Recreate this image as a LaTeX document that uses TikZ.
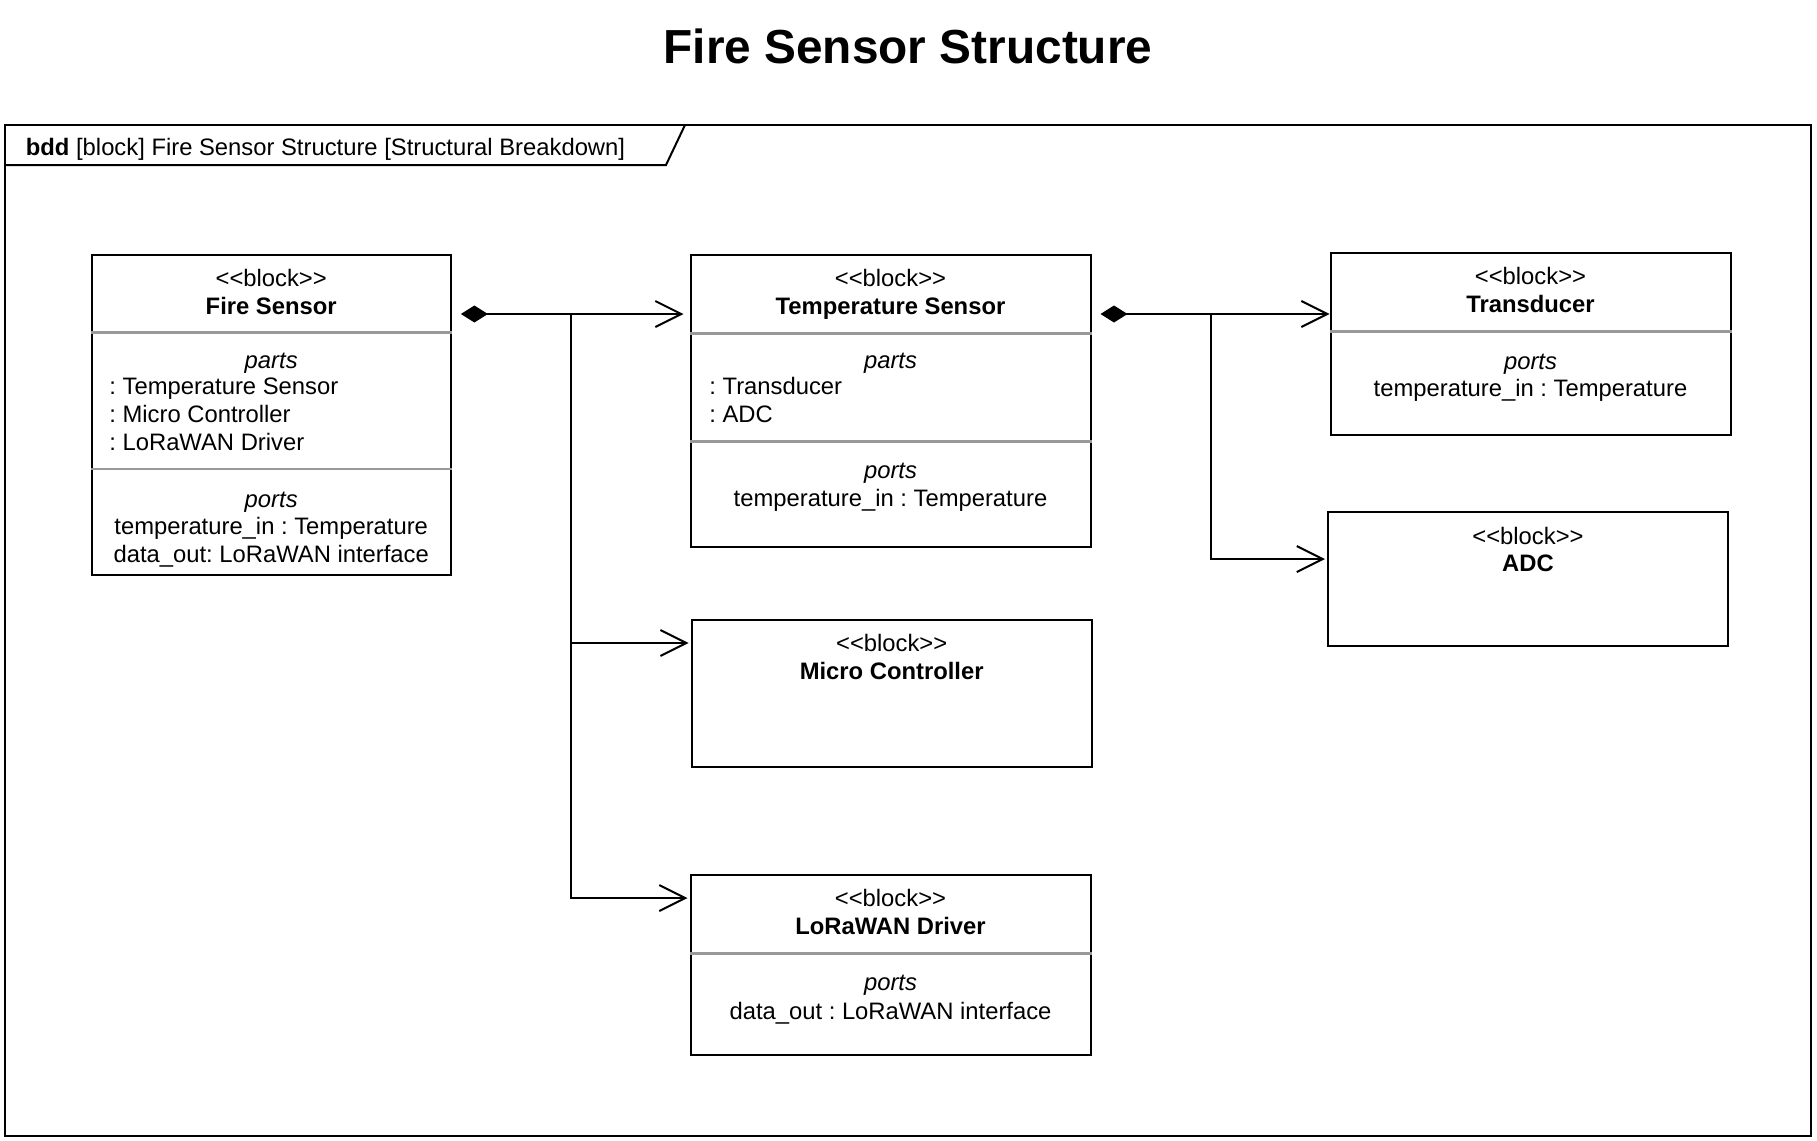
\documentclass[tikz,border=0pt]{standalone}
\usepackage{fontspec}
\setmainfont{Liberation Sans}
\usetikzlibrary{arrows.meta}
\frenchspacing

\newcommand{\sterblock}{<\kern0pt<block>\kern0pt>}

\tikzset{
  block/.style={draw, line width=1pt, inner sep=0pt},
  divider/.style={draw=black!40, line width=1.3pt},
  txt/.style={anchor=base, inner sep=0pt, font=\fontsize{11.9}{13.9}\selectfont},
  ltxt/.style={txt, anchor=base west},
  ital/.style={txt, font=\fontsize{11.9}{13.9}\selectfont\itshape},
  bname/.style={txt, font=\fontsize{11.9}{13.9}\selectfont\bfseries},
  partof/.style={line width=1pt, {Diamond[length=13.5pt,width=8.5pt]}-{Straight Barb[length=13pt,width=13pt]}, shorten <=4.5pt},
  assoc/.style={line width=1pt, -{Straight Barb[length=13pt,width=13pt]}, shorten >=1pt},
}

\begin{document}
\begin{tikzpicture}[x=0.5pt,y=-0.5pt]
  \useasboundingbox (0,0) rectangle (1817,1141);

  % title and frame
  \node[anchor=base, inner sep=0pt, font=\fontsize{23.9}{28}\selectfont\bfseries] (title) at (908,63) {Fire Sensor Structure};
  \draw[line width=1pt] (4.6,125) rectangle (1811,1136);
  \draw[line width=1pt] (4.6,165) -- (666,165) -- (685,125);
  \node[ltxt] (hdr) at (25.5,155.5) {\textbf{bdd} [block] Fire Sensor Structure [Structural Breakdown]};

  % blocks
  \node[block, minimum width=179.7pt, minimum height=160pt] (fire) at (271.2,415) {};
  \node[block, minimum width=200pt, minimum height=146pt] (temp) at (890.5,401) {};
  \node[block, minimum width=200pt, minimum height=91pt] (trans) at (1530.5,343.6) {};
  \node[block, minimum width=200pt, minimum height=66.75pt] (adc) at (1528,578.8) {};
  \node[block, minimum width=200pt, minimum height=73.5pt] (micro) at (891.7,693.5) {};
  \node[block, minimum width=200pt, minimum height=89.75pt] (lora) at (890.5,964.8) {};

  % compartments
  \draw[divider] (fire.west |- 0,332.6) -- (fire.east |- 0,332.6);
  \draw[divider] (fire.west |- 0,469) -- (fire.east |- 0,469);
  \draw[divider] (temp.west |- 0,333.7) -- (temp.east |- 0,333.7);
  \draw[divider] (temp.west |- 0,441.5) -- (temp.east |- 0,441.5);
  \draw[divider] (trans.west |- 0,331.4) -- (trans.east |- 0,331.4);
  \draw[divider] (lora.west |- 0,953.7) -- (lora.east |- 0,953.7);

  % Fire Sensor
  \node[txt] (fs-st) at (271.2,286.5) {\sterblock};
  \node[bname] (fs-nm) at (271.2,314.5) {Fire Sensor};
  \node[ital] (fs-pt) at (271.2,368) {parts};
  \node[ltxt] (fs-p1) at (109,394.5) {: Temperature Sensor};
  \node[ltxt] (fs-p2) at (109,422) {: Micro Controller};
  \node[ltxt] (fs-p3) at (109,450) {: LoRaWAN Driver};
  \node[ital] (fs-po) at (271.2,507) {ports};
  \node[txt] (fs-o1) at (271.2,534.5) {temperature\_in : Temperature};
  \node[txt] (fs-o2) at (271.2,562.5) {data\_out: LoRaWAN interface};

  % Temperature Sensor
  \node[txt] (ts-st) at (890.5,286.5) {\sterblock};
  \node[bname] (ts-nm) at (890.5,314.5) {Temperature Sensor};
  \node[ital] (ts-pt) at (890.5,368) {parts};
  \node[ltxt] (ts-p1) at (709,394.5) {: Transducer};
  \node[ltxt] (ts-p2) at (709,422) {: ADC};
  \node[ital] (ts-po) at (890.5,478.5) {ports};
  \node[txt] (ts-o1) at (890.5,506.5) {temperature\_in : Temperature};

  % Transducer
  \node[txt] (tr-st) at (1530.5,284.3) {\sterblock};
  \node[bname] (tr-nm) at (1530.5,312) {Transducer};
  \node[ital] (tr-po) at (1530.5,369.5) {ports};
  \node[txt] (tr-o1) at (1530.5,396.5) {temperature\_in : Temperature};

  % ADC
  \node[txt] (ad-st) at (1528,544) {\sterblock};
  \node[bname] (ad-nm) at (1528,571.5) {ADC};

  % Micro Controller
  \node[txt] (mc-st) at (891.7,651.5) {\sterblock};
  \node[bname] (mc-nm) at (891.7,679.5) {Micro Controller};

  % LoRaWAN Driver
  \node[txt] (ld-st) at (890.5,906.5) {\sterblock};
  \node[bname] (ld-nm) at (890.5,934.5) {LoRaWAN Driver};
  \node[ital] (ld-po) at (890.5,990.7) {ports};
  \node[txt] (ld-o1) at (890.5,1019) {data\_out : LoRaWAN interface};

  % composition
  \coordinate (j1) at (571,314);
  \coordinate (j2) at (1211,314);
  \draw[partof, shorten >=3pt] (fire.east |- j1) -- (temp.west |- j1);
  \draw[assoc] (j1) |- ([yshift=-12pt]micro.north west);
  \draw[assoc] (j1) |- ([yshift=-12pt]lora.north west);
  \draw[partof] (temp.east |- j2) -- (trans.west |- j2);
  \draw[assoc] (j2) |- ([yshift=-24pt]adc.north west);
\end{tikzpicture}
\end{document}
